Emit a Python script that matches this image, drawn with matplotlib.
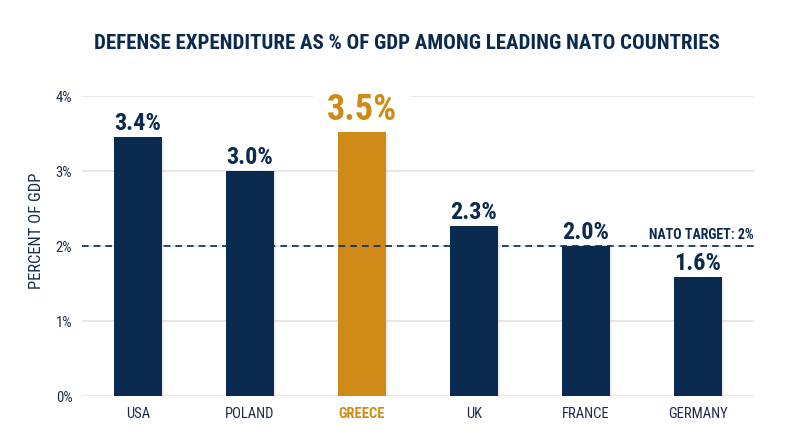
import matplotlib
matplotlib.use("Agg")
import matplotlib.pyplot as plt
import matplotlib.patheffects as pe
from matplotlib import font_manager

# data
countries = ["USA", "POLAND", "GREECE", "UK", "FRANCE", "GERMANY"]
values = [3.45, 3.0, 3.52, 2.27, 2.0, 1.59]
value_labels = ["3.4%", "3.0%", "3.5%", "2.3%", "2.0%", "1.6%"]
highlight = "GREECE"
nato_target = 2.0
y_ticks = [0, 1, 2, 3, 4]

NAVY = "#0b2a50"
GOLD = "#d08a18"
TEXT = "#1c2c48"

installed = {f.name for f in font_manager.fontManager.ttflist}
family = "Roboto"
for cand in ["Roboto Condensed", "Liberation Sans Narrow", "Roboto"]:
    if cand in installed:
        family = cand
        break
plt.rcParams["font.family"] = [family, "DejaVu Sans"]

fig = plt.figure(figsize=(8, 4.47), dpi=100)
ax = fig.add_axes([0.1025, 0.114, 0.84, 0.671])

x = list(range(len(countries)))
colors = [GOLD if c == highlight else NAVY for c in countries]
bars = ax.bar(x, values, width=0.43, color=colors, zorder=3)
for b in bars:
    b.set_path_effects([pe.SimplePatchShadow(offset=(1.5, -1.5), alpha=0.08, shadow_rgbFace="#555555"), pe.Normal()])

# grid
for t in y_ticks:
    ax.axhline(t, color="#e6e6e6", lw=1.3, zorder=1)

# nato target line
ax.axhline(nato_target, color=NAVY, lw=1.2, ls=(0, (4, 3)), zorder=4)
ax.text(5.5, nato_target + 0.05, "NATO TARGET: 2%", ha="right", va="bottom",
        fontsize=10, fontweight="bold", color=NAVY, zorder=5)

# value labels
for xi, v, lab, c in zip(x, values, value_labels, countries):
    if c == highlight:
        # white box sits under the bar but over the grid
        ax.annotate(lab, (xi, v), xytext=(0, 3), textcoords="offset points",
                    ha="center", va="bottom", fontsize=26, fontweight="bold", color=GOLD,
                    bbox=dict(facecolor="white", edgecolor="none", pad=10), zorder=2,
                    annotation_clip=False)
    else:
        ax.annotate(lab, (xi, v), xytext=(0, 1.5), textcoords="offset points",
                    ha="center", va="bottom", fontsize=17.5, fontweight="bold", color=NAVY,
                    zorder=6, annotation_clip=False)

ax.set_xlim(-0.5, 5.5)
ax.set_ylim(0, 4)
ax.set_yticks(y_ticks)
ax.set_yticklabels([f"{t}%" for t in y_ticks], fontsize=10.5, color=TEXT)
ax.set_xticks(x)
ax.set_xticklabels(countries, fontsize=10.5, color=TEXT)
for lab, c in zip(ax.get_xticklabels(), countries):
    if c == highlight:
        lab.set_color(GOLD)
        lab.set_fontweight("bold")
ax.tick_params(length=0)
ax.tick_params(axis="x", pad=8)
ax.tick_params(axis="y", pad=7)
for s in ax.spines.values():
    s.set_visible(False)

ax.set_ylabel("PERCENT OF GDP", fontsize=12, color=TEXT)
ax.yaxis.set_label_coords(-0.0565, 0.55)

fig.suptitle("DEFENSE EXPENDITURE AS % OF GDP AMONG LEADING NATO COUNTRIES",
             x=0.509, y=0.925, fontsize=15.0, fontweight="bold", color=NAVY)

fig.savefig("out.png", dpi=100, facecolor="white")
